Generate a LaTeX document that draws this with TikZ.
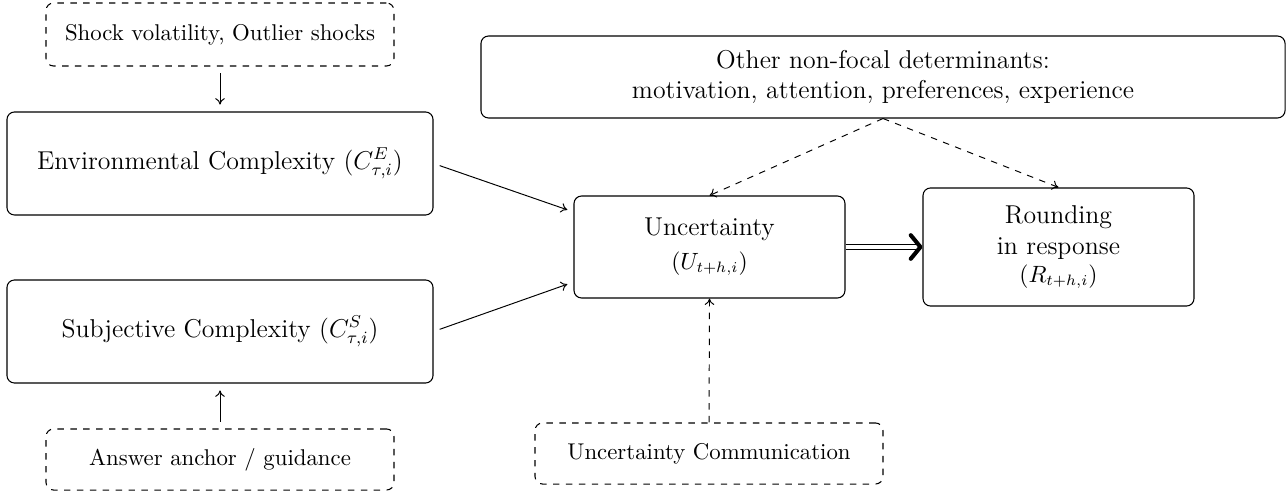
\documentclass[tikz,border=0pt]{standalone}
\usetikzlibrary{arrows.meta}
\begin{document}
\begin{tikzpicture}[x=0.465pt,y=-0.465pt,
  box/.style={draw, rounded corners=3.5pt, inner sep=0pt, align=center, line width=0.5pt},
  dbox/.style={box, dashed},
  smalltxt/.style={font=\fontsize{10.6}{12.7}\selectfont},
  arr/.style={-{To[length=3pt,width=4.5pt]}, line width=0.45pt},
  darr/.style={arr, dashed}]
\useasboundingbox (0,0) rectangle (1287,492);
\node[dbox, smalltxt, minimum width=161.8pt, minimum height=29.3pt] (shock) at (220,34.5) {Shock volatility, Outlier shocks};
\node[box, minimum width=198.1pt, minimum height=47.9pt] (env) at (220,163.5) {\large Environmental Complexity ($C^{E}_{\tau,i}$)};
\node[box, minimum width=198.1pt, minimum height=47.9pt] (subj) at (220,331.5) {\large Subjective Complexity ($C^{S}_{\tau,i}$)};
\node[dbox, smalltxt, minimum width=161.8pt, minimum height=28.4pt] (ans) at (220,459.5) {Answer anchor / guidance};
\node[box, smalltxt, minimum width=126pt, minimum height=47.4pt] (unc) at (709.5,247) {{\large Uncertainty}\\[3pt] $(U_{t+h,i})$};
\node[box, smalltxt, minimum width=126pt, minimum height=54.9pt] (rnd) at (1058.5,247) {{\large Rounding}\\[2pt] {\large in response}\\[0pt] $(R_{t+h,i})$};
\node[box, minimum width=373.9pt, minimum height=38.1pt] (oth) at (883,77) {\large Other non-focal determinants:\\[2pt] \large motivation, attention, preferences, experience};
\node[dbox, smalltxt, minimum width=161.8pt, minimum height=28.4pt] (uc) at (709,453.5) {Uncertainty Communication};

\draw[arr, shorten <=3.2pt, shorten >=3.2pt] (shock.south) -- (env.north);
\draw[arr, shorten <=3.2pt, shorten >=3.2pt] (ans.north) -- (subj.south);
\draw[arr, shorten <=3pt, shorten >=3pt] (env.east) -- ([yshift=16.3pt]unc.west);
\draw[arr, shorten <=3pt, shorten >=3pt] (subj.east) -- ([yshift=-16.3pt]unc.west);
\draw[darr] (oth.south) -- (unc.north);
\draw[darr] (oth.south) -- (rnd.north);
\draw[darr] (uc.north) -- (unc.south);
\draw[double, double distance=1.5pt, line width=0.7pt, -{Straight Barb[length=4.5pt, width=11pt, line width=1.9pt, round]}] (unc.east) -- (rnd.west);
\end{tikzpicture}
\end{document}
